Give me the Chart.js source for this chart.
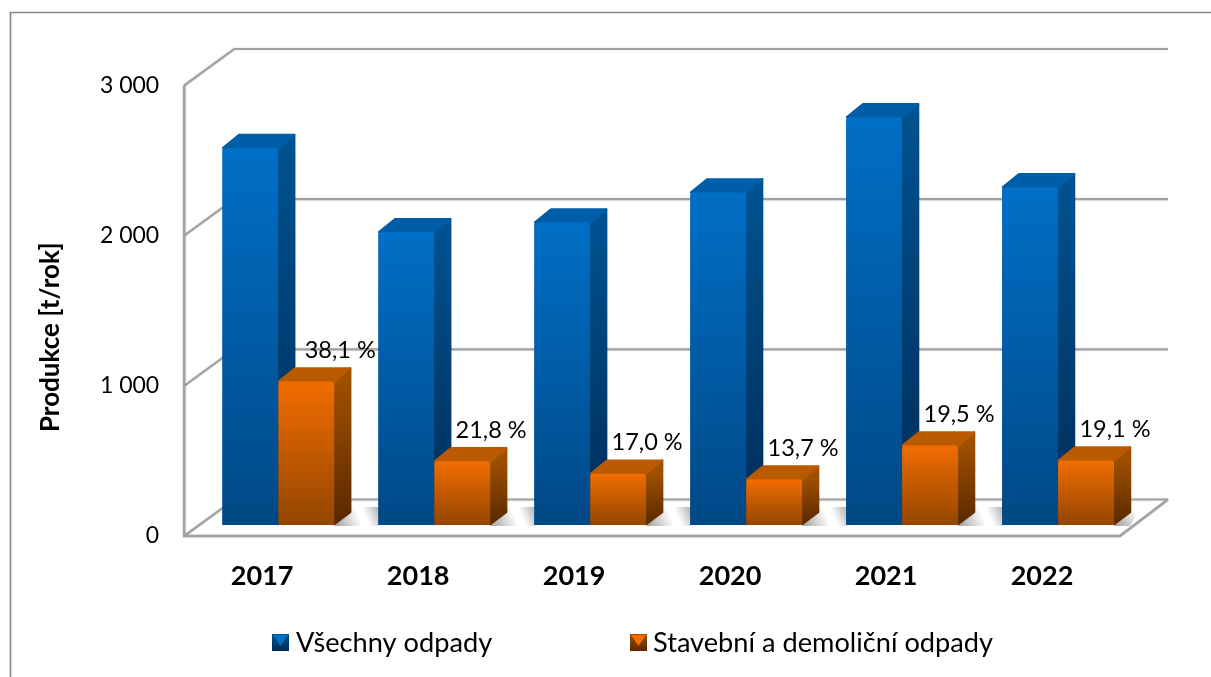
<!DOCTYPE html>
<html lang="cs">
<head>
<meta charset="utf-8">
<title>Produkce odpadů</title>
<script src="https://cdn.jsdelivr.net/npm/chart.js@4"></script>
<style>
  html, body { margin: 0; padding: 0; background: #fff; }
  #wrap { width: 1211px; height: 677px; }
</style>
</head>
<body>
<div id="wrap"><canvas id="chart" width="1211" height="677"></canvas></div>
<script>
// values
const YEARS = ["2017", "2018", "2019", "2020", "2021", "2022"];
const ALL_WASTE = [2510, 1950, 2015, 2215, 2715, 2250];
const CD_WASTE = [955, 425, 342, 303, 529, 430];
const CD_SHARE = ["38,1 %", "21,8 %", "17,0 %", "13,7 %", "19,5 %", "19,1 %"];
const SERIES_NAMES = ["Všechny odpady", "Stavební a demoliční odpady"];
const Y_TICKS = [0, 1000, 2000, 3000];

const FONT = "Lato, Carlito, sans-serif";
const GRID = "#a2a2a2", FRAME = "#868686";
// front, side and top colours of the 3D bars
const BLUE = { top: "#006fc6", bottom: "#004885", sideTop: "#00518f", sideBottom: "#002c58", lid: "#005ea8" };
const ORANGE = { top: "#f26d00", bottom: "#934500", sideTop: "#9e4f00", sideBottom: "#592800", lid: "#b95900" };
const SKINS = [BLUE, ORANGE];

// depth of the walls and of one bar, in px
const WALL_DX = 50, WALL_DY = -36.5, BAR_DX = 17, BAR_DY = -14;
const PLANE_DX = -16, PLANE_DY = 11; // front plane of the box relative to the bars

function barFill(ctx, skin) {
  if (ctx.type !== "data" || !ctx.chart.chartArea) return skin.top;
  const y = ctx.chart.scales.y;
  const g = ctx.chart.ctx.createLinearGradient(0, y.getPixelForValue(ctx.raw), 0, y.getPixelForValue(0));
  g.addColorStop(0, skin.top);
  g.addColorStop(1, skin.bottom);
  return g;
}

function poly(c, pts, fill, round) {
  c.beginPath();
  pts.forEach((p, i) => i ? c.lineTo(p[0], p[1]) : c.moveTo(p[0], p[1]));
  c.closePath();
  c.fillStyle = fill;
  c.strokeStyle = fill;
  c.lineWidth = round || 1.5;
  c.lineJoin = "round";
  c.fill();
  c.stroke();
}

function drawBox(chart) {
  const c = chart.ctx, a = chart.chartArea, y = chart.scales.y;
  const x0 = a.left + PLANE_DX, x1 = a.right + PLANE_DX;
  const yFloor = y.getPixelForValue(0) + PLANE_DY;
  c.save();
  // floor
  poly(c, [[x0, yFloor], [x1, yFloor], [x1 + WALL_DX - 2, yFloor + WALL_DY], [x0 + WALL_DX, yFloor + WALL_DY]], "#ffffff");
  c.strokeStyle = GRID;
  c.lineJoin = "miter";
  c.shadowColor = "rgba(0,0,0,0.18)";
  c.shadowBlur = 2;
  // lines on the walls
  c.lineWidth = 2.2;
  Y_TICKS.forEach(v => {
    const p = y.getPixelForValue(v) + PLANE_DY;
    c.beginPath();
    c.moveTo(x0, p);
    c.lineTo(x0 + WALL_DX, p + WALL_DY);
    c.lineTo(x1 + WALL_DX - 2, p + WALL_DY);
    c.stroke();
  });
  // side wall and front edge of the floor
  c.lineWidth = 2.6;
  c.beginPath();
  c.moveTo(x0, y.getPixelForValue(3000) + PLANE_DY);
  c.lineTo(x0, yFloor);
  c.lineTo(x1, yFloor);
  c.lineTo(x1 + WALL_DX - 2, yFloor + WALL_DY);
  c.stroke();
  c.restore();
}

function drawFloorShadows(chart) {
  const c = chart.ctx, y = chart.scales.y;
  const blue = chart.getDatasetMeta(0).data, orange = chart.getDatasetMeta(1).data;
  const yb = y.getPixelForValue(0) + 1, yt = yb - 19;
  c.save();
  orange.forEach((bar, i) => {
    const from = bar.x + bar.width / 2;
    const last = i === blue.length - 1;
    const to = last ? from + 16 : blue[i + 1].x - blue[i + 1].width / 2;
    const g = c.createLinearGradient(from, yb, to, yt);
    g.addColorStop(0, "#9b9b9b");
    g.addColorStop(last ? 1 : 0.55, "#ffffff");
    if (!last) {
      g.addColorStop(0.68, "#ffffff");
      g.addColorStop(1, "#b4b4b4");
    }
    c.fillStyle = g;
    c.beginPath();
    c.moveTo(from, yb);
    c.lineTo(to, yb);
    c.lineTo(to + BAR_DX - 6, yt);
    c.lineTo(from + BAR_DX, yt);
    c.closePath();
    c.fill();
  });
  c.restore();
}

function drawBarDepth(chart) {
  const c = chart.ctx;
  [0, 1].forEach(ds => {
    const skin = SKINS[ds];
    chart.getDatasetMeta(ds).data.forEach(bar => {
      const l = bar.x - bar.width / 2, r = bar.x + bar.width / 2, t = bar.y, b = bar.base;
      const g = c.createLinearGradient(0, t, 0, b);
      g.addColorStop(0, skin.sideTop);
      g.addColorStop(1, skin.sideBottom);
      poly(c, [[r, t], [r + BAR_DX - 1, t + BAR_DY + 1], [r + BAR_DX - 1, b + BAR_DY + 1], [r, b - 1]], g, 2.5);
      poly(c, [[l + 1, t], [l + BAR_DX, t + BAR_DY + 1], [r + BAR_DX - 1, t + BAR_DY + 1], [r, t]], skin.lid, 2.5);
    });
  });
}

function drawShareLabels(chart) {
  const c = chart.ctx;
  c.save();
  c.font = "23.5px " + FONT;
  c.fillStyle = "#000";
  c.textAlign = "center";
  c.textBaseline = "middle";
  chart.getDatasetMeta(1).data.forEach((bar, i) => {
    c.fillText(CD_SHARE[i], bar.x + (i ? 29 : 34), bar.y - 31);
  });
  c.restore();
}

function drawLegend(chart) {
  const c = chart.ctx;
  const boxes = [272, 630], boxSize = 17, top = 634;
  c.save();
  c.font = "27.2px " + FONT;
  c.textBaseline = "middle";
  c.textAlign = "left";
  boxes.forEach((x, i) => {
    const skin = SKINS[i];
    const g = c.createLinearGradient(0, top, 0, top + boxSize);
    g.addColorStop(0, skin.sideTop);
    g.addColorStop(1, skin.sideBottom);
    c.fillStyle = g;
    c.fillRect(x, top, boxSize, boxSize);
    // lighter wedge on the top half of the swatch
    c.fillStyle = skin.top;
    c.beginPath();
    c.moveTo(x + 1, top + 1);
    c.lineTo(x + boxSize - 1, top + 1);
    c.lineTo(x + boxSize / 2, top + boxSize - 5);
    c.closePath();
    c.fill();
    c.fillStyle = "#000";
    c.fillText(chart.data.datasets[i].label, x + boxSize + (i ? 6 : 7), top + 9);
  });
  c.restore();
}

const box3d = {
  id: "box3d",
  beforeDraw(chart) {
    const c = chart.ctx;
    c.save();
    c.strokeStyle = FRAME;
    c.lineWidth = 1.6;
    c.beginPath();
    c.moveTo(10.5, 677);
    c.lineTo(10.5, 12.5);
    c.lineTo(1211, 12.5);
    c.stroke();
    c.restore();
  },
  beforeDatasetsDraw(chart) {
    drawBox(chart);
    drawFloorShadows(chart);
    drawBarDepth(chart);
  },
  afterDatasetsDraw(chart) {
    drawShareLabels(chart);
    drawLegend(chart);
  }
};

new Chart(document.getElementById("chart"), {
  type: "bar",
  plugins: [box3d],
  data: {
    labels: YEARS,
    datasets: [
      { label: SERIES_NAMES[0], data: ALL_WASTE, backgroundColor: ctx => barFill(ctx, BLUE) },
      { label: SERIES_NAMES[1], data: CD_WASTE, backgroundColor: ctx => barFill(ctx, ORANGE) }
    ]
  },
  options: {
    responsive: false,
    animation: false,
    layout: { padding: { left: 0, right: 75, top: 74.5, bottom: 77 } },
    datasets: { bar: { categoryPercentage: 112 / 156, barPercentage: 1, borderRadius: 3 } },
    plugins: {
      legend: { display: false },
      tooltip: { enabled: false },
      title: {
        display: true,
        position: "left",
        text: "Produkce [t/rok]",
        color: "#000",
        font: { family: FONT, size: 26, weight: "bold" },
        padding: { top: 35, bottom: 0 }
      }
    },
    scales: {
      x: {
        grid: { display: false },
        border: { display: false },
        afterFit: s => { s.height = 75; },
        ticks: {
          autoSkip: false, maxRotation: 0, padding: 27, labelOffset: -16,
          color: "#000", font: { family: FONT, size: 27, weight: "bold" }
        }
      },
      y: {
        min: 0, max: 3000,
        grid: { display: false },
        border: { display: false },
        afterFit: s => { s.width = 134; },
        ticks: {
          stepSize: 1000, padding: 33,
          labelOffset: t => (t.index === 3 ? 13 : 11),
          color: "#000", font: { family: FONT, size: 23 },
          callback: v => String(v).replace(/\B(?=(\d{3})+$)/g, " ")
        }
      }
    }
  }
});
</script>
</body>
</html>
